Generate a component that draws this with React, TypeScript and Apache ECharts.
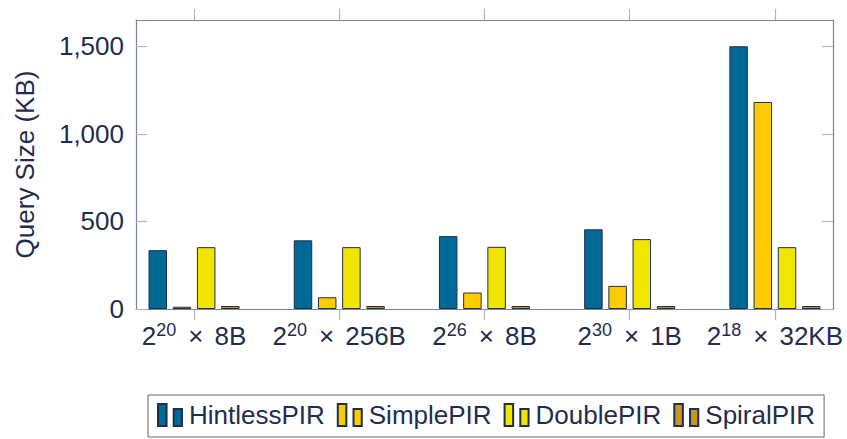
import React, { useEffect, useRef } from 'react';
import * as echarts from 'echarts';

// Tick labels: base^exp × suffix
const labelBase = ['2', '2', '2', '2', '2'];
const labelExp = ['20', '20', '26', '30', '18'];
const labelSuffix = ['8B', '256B', '8B', '1B', '32KB'];

const seriesNames = ['HintlessPIR', 'SimplePIR', 'DoublePIR', 'SpiralPIR'];
const hintless = [336, 392, 416, 455, 1500];
const simple = [13, 67, 94, 132, 1182];
const double = [353, 353, 355, 399, 353];
const spiral = [17, 17, 17, 17, 17];

const yTicks = [0, 500, 1000, 1500];

const TEXT = '#1f2d4e';
const FRAME = '#76839a';
const TICK = '#b5b5b5';
const FONT = 'Liberation Sans';
const colors = ['#006a96', '#ffcc00', '#f2e600', '#c8961e'];
const offsets = [-0.25, -1 / 12, 1 / 12, 0.25];

export default function App() {
  const ref = useRef<HTMLDivElement>(null);
  useEffect(() => {
    const chart = echarts.init(ref.current!, null, { renderer: 'svg' });
    const allSeries = [hintless, simple, double, spiral];
    const xTickVals = labelSuffix.map((_, i) => i);
    const frameLine = { show: true, onZero: false, lineStyle: { color: FRAME, width: 1.2 } };
    const option: any = {
      animation: false,
      textStyle: { fontFamily: FONT, color: TEXT },
      grid: { left: 136, top: 20, width: 697, height: 289, containLabel: false },
      legend: {
        left: 148,
        top: 395,
        padding: [7, 9, 9, 9],
        itemGap: 12,
        itemWidth: 24,
        itemHeight: 22,
        borderColor: '#666',
        borderWidth: 1,
        icon: 'path://M0,0 H8.7 V22.4 H0 Z M16,5 H24.4 V22.4 H16 Z',
        textStyle: { fontSize: 26, color: TEXT, fontFamily: FONT, lineHeight: 26, padding: [0, 0, 0, 2] },
        data: seriesNames,
      },
      xAxis: [
        {
          type: 'value',
          min: -0.4,
          max: 4.4,
          position: 'bottom',
          splitLine: { show: false },
          axisLine: frameLine,
          axisTick: { show: true, inside: false, length: 11, customValues: xTickVals, lineStyle: { color: TICK, width: 1.2 } },
          axisLabel: {
            show: true,
            customValues: xTickVals,
            margin: 12,
            formatter: (v: number) => {
              const i = Math.round(v);
              return `{b|${labelBase[i]}}{s|${labelExp[i]}}{x|×}{b|${labelSuffix[i]}}`;
            },
            rich: {
              b: { fontSize: 26, lineHeight: 30, color: TEXT, fontFamily: FONT },
              s: { fontSize: 18, lineHeight: 20, verticalAlign: 'top', color: TEXT, fontFamily: FONT },
              x: { fontSize: 26, lineHeight: 30, color: TEXT, fontFamily: FONT, padding: [0, 11, 0, 12] },
            },
          },
        },
        {
          type: 'value',
          min: -0.4,
          max: 4.4,
          position: 'top',
          splitLine: { show: false },
          axisLine: frameLine,
          axisTick: { show: true, inside: false, length: 11, customValues: xTickVals, lineStyle: { color: TICK, width: 1.2 } },
          axisLabel: { show: false },
        },
      ],
      yAxis: [
        {
          type: 'value',
          min: 0,
          max: 1650,
          position: 'left',
          name: 'Query Size (KB)',
          nameLocation: 'middle',
          nameRotate: 90,
          nameGap: 98,
          nameTextStyle: { fontSize: 26, color: TEXT, fontFamily: FONT },
          splitLine: { show: false },
          axisLine: frameLine,
          axisTick: { show: true, inside: true, length: 11, customValues: yTicks, lineStyle: { color: TICK, width: 1.2 } },
          axisLabel: {
            customValues: yTicks,
            margin: 12,
            fontSize: 26,
            color: TEXT,
            fontFamily: FONT,
            formatter: (v: number) => v.toLocaleString('en-US'),
          },
        },
        {
          type: 'value',
          min: 0,
          max: 1650,
          position: 'right',
          splitLine: { show: false },
          axisLine: frameLine,
          axisTick: { show: true, inside: true, length: 11, customValues: yTicks, lineStyle: { color: TICK, width: 1.2 } },
          axisLabel: { show: false },
        },
      ],
      series: allSeries.map((vals, s) => ({
        type: 'bar',
        name: seriesNames[s],
        xAxisIndex: 0,
        yAxisIndex: 0,
        barWidth: 18.5,
        barGap: '-100%',
        itemStyle: { color: colors[s], borderColor: TEXT, borderWidth: 1 },
        data: vals.map((v, i) => [i + offsets[s], v]),
      })),
    };
    chart.setOption(option);
    return () => chart.dispose();
  }, []);
  return <div ref={ref} style={{ position: 'absolute', left: 0, top: 0, width: 847, height: 439 }} />;
}
